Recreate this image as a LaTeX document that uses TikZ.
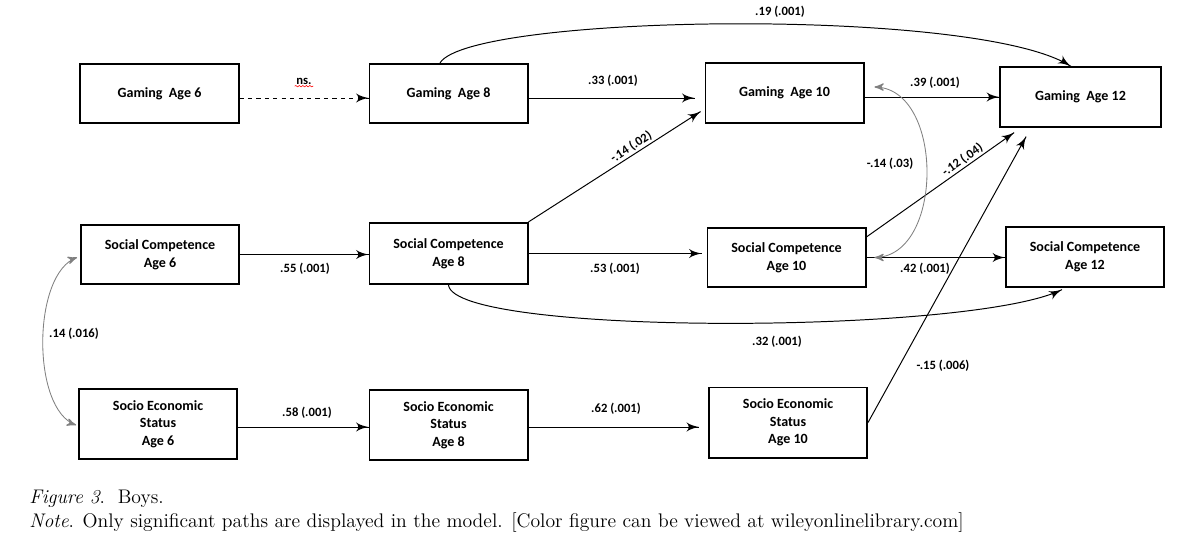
\documentclass[tikz,border=0pt]{standalone}
\usepackage{fontspec}
\newfontfamily\calib{Carlito}
\usepackage{tikz}
\usetikzlibrary{arrows}
\usetikzlibrary{decorations.markings}
\usetikzlibrary{decorations.pathmorphing}
\tikzset{->/.style = {decoration={markings,
                                  mark=at position 0.999 with {\arrow[scale=1.8]{latex'}}},
                      postaction={decorate}}}
\tikzset{<->/.style = {decoration={markings,
                                   mark=at position 0.001 with {\arrowreversed[scale=1.5]{stealth'}},
                                   mark=at position 0.999 with {\arrow[scale=1.5]{stealth'}}},
                       postaction={decorate}}}

\begin{document}
\begin{tikzpicture}[x=0.025cm, y=-0.025cm,
    box/.style={draw, line width=1.4pt, minimum width=3.95cm, minimum height=1.48cm,
                align=center, inner sep=2pt, font=\calib\bfseries\fontsize{10}{12.5}\selectfont},
    tallbox/.style={box, minimum height=1.75cm},
    link/.style={line width=0.7pt},
    covar/.style={gray, line width=0.6pt},
    lbl/.style={inner sep=1pt, font=\calib\bfseries\fontsize{9}{10}\selectfont}]
    \useasboundingbox (0,0) rectangle (1200,541);

    % boxes
    \node [box] (g6) at (159.5,93.5) {Gaming\ \ Age 6};
    \node [box] (g8) at (448.5,93.5) {Gaming\ \ Age 8};
    \node [box] (g10) at (784.5,93) {Gaming\ \ Age 10};
    \node [box, minimum width=4.02cm] (g12) at (1080.5,97) {Gaming\ \ Age 12};
    \node [box] (sc6) at (160,254.5) {Social Competence\\Age 6};
    \node [box, minimum height=1.53cm] (sc8) at (448.5,253.5) {Social Competence\\Age 8};
    \node [box] (sc10) at (786.5,257.5) {Social Competence\\Age 10};
    \node [box] (sc12) at (1085,257) {Social Competence\\Age 12};
    \node [tallbox] (ses6) at (158,424) {Socio Economic\\Status\\Age 6};
    \node [tallbox] (ses8) at (448.5,425) {Socio Economic\\Status\\Age 8};
    \node [tallbox] (ses10) at (788,422.5) {Socio Economic\\Status\\Age 10};

    % paths between waves
    \draw [link, dashed, ->] ([shift={(0,4.5)}]g6.east) -- ([shift={(0,4.5)}]g6.east -| g8.west);
    \draw [link, ->] ([shift={(0,4.5)}]g8.east) -- ([shift={(-10,4.5)}]g8.east -| g10.west);
    \draw [link, ->] ([shift={(0,4)}]g10.east) -- (g12.west);
    \draw [link, ->] (sc6.east) -- (sc6.east -| sc8.west);
    \draw [link, ->] (sc8.east) -- ([shift={(-5,0)}]sc8.east -| sc10.west);
    \draw [link, ->] (sc10.east) -- (sc10.east -| sc12.west);
    \draw [link, ->] ([shift={(0,3)}]ses6.east) -- ([shift={(0,3)}]ses6.east -| ses8.west);
    \draw [link, ->] ([shift={(0,2)}]ses8.east) -- ([shift={(-9,2)}]ses8.east -| ses10.west);
    \draw [link, ->] (sc8.north east) -- node [lbl, sloped, above, pos=0.62] {-.14 (.02)}
        ([shift={(-4,-12)}]g10.south west);
    \draw [link, ->] ([shift={(0,10)}]sc10.north east) -- node [lbl, sloped, above, pos=0.68] {-.12 (.04)}
        ([shift={(15,5)}]g12.south west);
    \draw [link, ->] (ses10.east) -- ([shift={(27,9)}]g12.south west);
    \draw [link, ->] ([shift={(-8.5,0)}]g8.north) .. controls +(30,-49) and +(-91,-60) .. ([shift={(-9.5,0)}]g12.north);
    \draw [link, ->] (sc8.south) .. controls +(6,51) and +(-90,45) .. ([shift={(-23,2)}]sc12.south);

    % correlations
    \draw [covar, <->] ([shift={(10,-6)}]g10.east) .. controls +(70,0) and +(70,0) .. ([shift={(8,0)}]sc10.east);
    \draw [covar, <->] ([shift={(-3,3)}]sc6.west) .. controls +(-45,15) and +(-45,-15) .. ([shift={(-2,1)}]ses6.west);

    % coefficients
    \node [lbl] (ns) at (304,81) {ns.};
    \draw [red, line width=0.4pt, decorate, decoration={snake, amplitude=0.5pt, segment length=2.5pt}]
        ([yshift=-1.5pt]ns.base west) -- ([yshift=-1.5pt]ns.base east);
    \node [lbl] (b1) at (613,81) {.33 (.001)};
    \node [lbl] (b2) at (780,12) {.19 (.001)};
    \node [lbl] (b3) at (935,83) {.39 (.001)};
    \node [lbl] (r1) at (890,164) {-.14 (.03)};
    \node [lbl] (b4) at (305,269) {.55 (.001)};
    \node [lbl] (b5) at (615,269) {.53 (.001)};
    \node [lbl] (b6) at (925,269) {.42 (.001)};
    \node [lbl] (b7) at (777,342) {.32 (.001)};
    \node [lbl] (b8) at (943,366) {-.15 (.006)};
    \node [lbl] (r2) at (74,334) {.14 (.016)};
    \node [lbl] (b9) at (307,413) {.58 (.001)};
    \node [lbl] (b10) at (616,409) {.62 (.001)};

    % caption
    \node [anchor=base west, inner sep=0pt, font=\fontsize{14}{16}\selectfont] (fig) at (29,503)
        {\textit{Figure 3}.\ \ Boys.};
    \node [anchor=base west, inner sep=0pt, font=\fontsize{14}{16}\selectfont] (note) at (29,527)
        {\textit{Note}. Only significant paths are displayed in the model. [Color figure can be viewed at wileyonlinelibrary.com]};
\end{tikzpicture}
\end{document}
